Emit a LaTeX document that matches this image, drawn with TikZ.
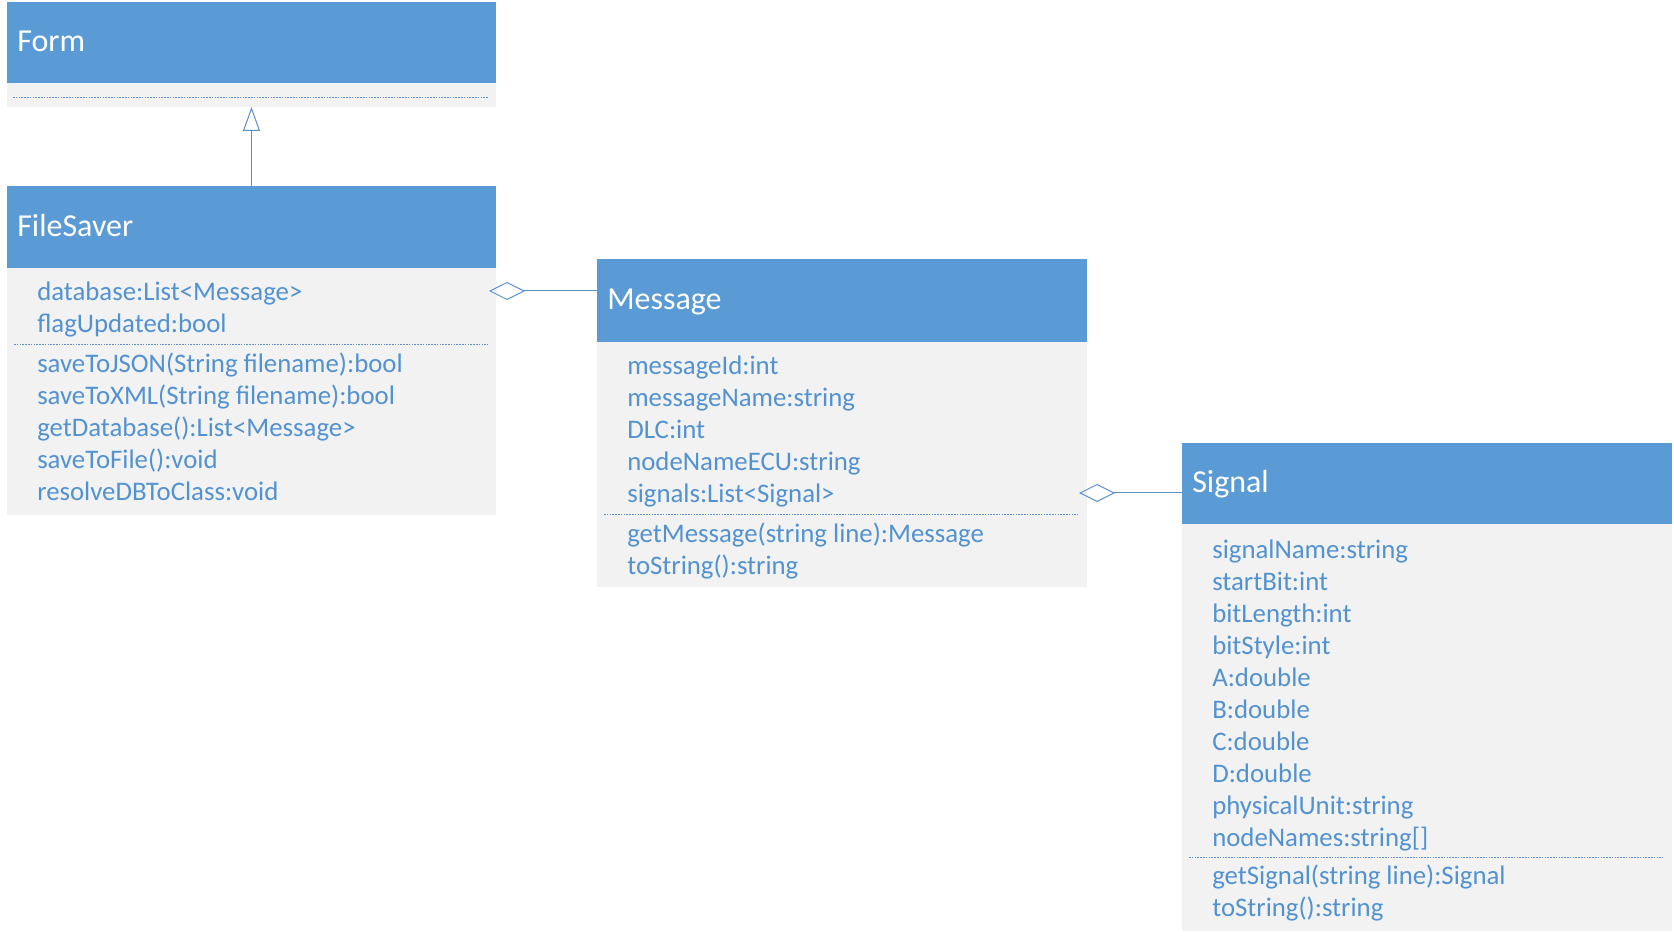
\documentclass[tikz,border=0pt]{standalone}
\usepackage{fontspec}
\setmainfont{Carlito}
\usetikzlibrary{arrows.meta}
\definecolor{hdrc}{HTML}{5B9BD5}
\definecolor{bodyc}{HTML}{F2F2F2}
\definecolor{txtc}{HTML}{5292D0}
\definecolor{lnc}{HTML}{5B8FC8}
\tikzset{
  classhead/.style={fill=hdrc, anchor=north west, inner sep=0pt, outer sep=0pt},
  classbody/.style={fill=bodyc, anchor=north west, inner sep=0pt, outer sep=0pt},
  ctitle/.style={anchor=base west, inner sep=0pt, text=white, font=\fontsize{24}{28}\selectfont},
  attr/.style={anchor=base west, inner sep=0pt, text=txtc, font=\fontsize{20.1}{24}\selectfont},
  sepline/.style={draw=lnc, line width=0.6pt, dash pattern=on 1.2pt off 0.9pt},
  aggr/.style={draw=lnc, line width=0.75pt, -{Diamond[open, length=27pt, width=13.5pt, line width=0.75pt]}},
  gener/.style={draw=lnc, line width=0.75pt, -{Triangle[open, length=18pt, width=12.75pt, line width=0.75pt]}}
}
\begin{document}
\begin{tikzpicture}[x=0.75pt, y=-0.75pt]
\useasboundingbox (0,0) rectangle (1674,937);
\fill[white] (0,0) rectangle (1674,937);

% Form
\node[classhead, minimum width=366.75pt, minimum height=60.75pt] (formhead) at (7,2) {};
\node[classbody, minimum width=366.75pt, minimum height=18pt] (formbody) at (7,83) {};
\node[ctitle] (formtitle) at (17,52) {Form};
\draw[sepline] (13,97) -- (488,97);

% FileSaver
\node[classhead, minimum width=366.75pt, minimum height=61.5pt] (fshead) at (7,186) {};
\node[classbody, minimum width=366.75pt, minimum height=185.25pt] (fsbody) at (7,268) {};
\node[ctitle] (fstitle) at (17,237) {FileSaver};
\node[attr] (fs1) at (37,301) {database:List<Message>};
\node[attr] (fs2) at (37,333) {flagUpdated:bool};
\draw[sepline] (14,344) -- (488,344);
\node[attr] (fs3) at (37,373) {saveToJSON(String filename):bool};
\node[attr] (fs4) at (37,405) {saveToXML(String filename):bool};
\node[attr] (fs5) at (37,437) {getDatabase():List<Message>};
\node[attr] (fs6) at (37,469) {saveToFile():void};
\node[attr] (fs7) at (37,501) {resolveDBToClass:void};

% Message
\node[classhead, minimum width=367.5pt, minimum height=62.25pt] (msghead) at (597,259) {};
\node[classbody, minimum width=367.5pt, minimum height=183.75pt] (msgbody) at (597,342) {};
\node[ctitle] (msgtitle) at (607,310) {Message};
\node[attr] (m1) at (627,375) {messageId:int};
\node[attr] (m2) at (627,407) {messageName:string};
\node[attr] (m3) at (627,439) {DLC:int};
\node[attr] (m4) at (627,471) {nodeNameECU:string};
\node[attr] (m5) at (627,503) {signals:List<Signal>};
\draw[sepline] (604,514) -- (1078,514);
\node[attr] (m6) at (627,542) {getMessage(string line):Message};
\node[attr] (m7) at (627,574) {toString():string};

% Signal
\node[classhead, minimum width=367.5pt, minimum height=60.75pt] (sighead) at (1182,443) {};
\node[classbody, minimum width=367.5pt, minimum height=305.25pt] (sigbody) at (1182,524) {};
\node[ctitle] (sigtitle) at (1192,493) {Signal};
\node[attr] (s1) at (1212,558) {signalName:string};
\node[attr] (s2) at (1212,590) {startBit:int};
\node[attr] (s3) at (1212,622) {bitLength:int};
\node[attr] (s4) at (1212,654) {bitStyle:int};
\node[attr] (s5) at (1212,686) {A:double};
\node[attr] (s6) at (1212,718) {B:double};
\node[attr] (s7) at (1212,750) {C:double};
\node[attr] (s8) at (1212,782) {D:double};
\node[attr] (s9) at (1212,814) {physicalUnit:string};
\node[attr] (s10) at (1212,846) {nodeNames:string[]};
\draw[sepline] (1189,857) -- (1663,857);
\node[attr] (s11) at (1212,884) {getSignal(string line):Signal};
\node[attr] (s12) at (1212,916) {toString():string};

% connectors
\draw[gener] (fshead.north) -- (formbody.south);
\coordinate (d1) at (489,291);
\draw[aggr] (msghead.west |- d1) -- (d1);
\coordinate (d2) at (1079,493);
\draw[aggr] (sighead.west |- d2) -- (d2);
\end{tikzpicture}
\end{document}
